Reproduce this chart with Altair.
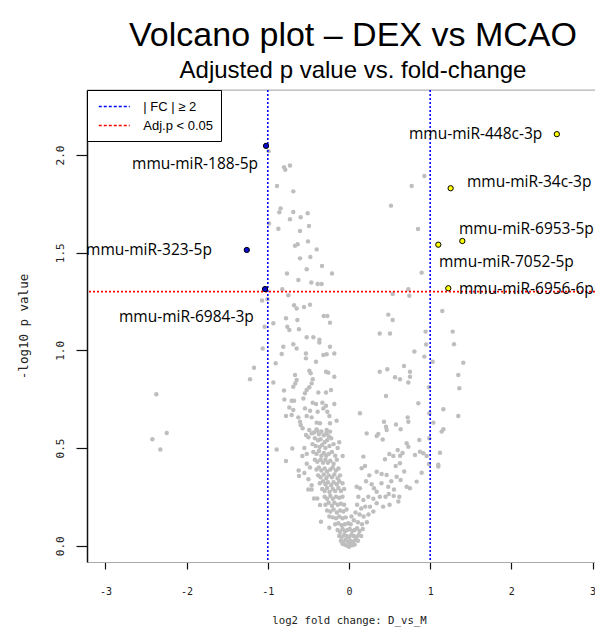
import altair as alt
import pandas as pd

# ---------------- data (log2 fold change, -log10 p) ----------------
upper_pts = [(-0.99, 2.02), (-0.80, 1.937), (-0.727, 1.946), (-0.785, 1.925), (-0.887, 1.842),
             (-0.686, 1.814), (-0.842, 1.727), (-0.858, 1.707), (-0.686, 1.708), (-0.727, 1.671),
             (-0.595, 1.681), (-0.509, 1.702), (-0.985, 1.65), (-0.87, 1.623), (-0.493, 1.637),
             (-0.603, 1.611), (-0.505, 1.558), (-0.632, 1.543), (-0.665, 1.536), (-0.398, 1.517),
             (-0.603, 1.471), (-0.476, 1.478), (-0.333, 1.432), (-0.521, 1.415), (-0.764, 1.393),
             (-0.209, 1.393), (-0.624, 1.36), (-0.464, 1.347), (-0.386, 1.34), (-0.337, 1.34),
             (-0.821, 1.313),
             (0.928, 1.893), (0.772, 1.842), (0.517, 1.741), (0.85, 1.621), (0.895, 1.398), (0.731, 1.313)]

midhigh_pts = [(-0.747, 1.282), (-1.071, 1.255), (-1.005, 1.262), (-0.677, 1.231), (-0.645, 1.214),
               (-0.554, 1.222), (-0.48, 1.234), (-0.312, 1.176), (-0.267, 1.176), (-0.234, 1.142),
               (-0.776, 1.164), (-0.636, 1.156), (-0.932, 1.139), (-1.039, 1.121), (-0.76, 1.121),
               (-0.735, 1.104), (-0.616, 1.108), (-0.521, 1.067), (-0.439, 1.067), (-0.365, 1.054),
               (-0.365, 1.04), (-1.063, 1.01), (-0.809, 1.019), (-0.686, 1.031), (-0.645, 1.01),
               (-0.234, 1.019),
               (0.538, 1.289), (0.743, 1.28), (0.484, 1.183), (0.538, 1.156), (0.378, 1.086),
               (0.505, 1.086), (0.944, 1.096), (1.149, 1.202), (1.277, 1.096), (1.293, 1.031), (0.95, 1.03)]

mid_left_pts = [(-0.829, 0.981), (-0.530, 0.984), (-0.530, 0.959), (-0.316, 0.976), (-0.275, 0.980),
                (-0.181, 0.984), (-0.406, 0.942), (-0.903, 0.934), (-1.170, 0.911), (-1.219, 0.852),
                (-0.932, 0.835), (-0.665, 0.874), (-0.645, 0.848), (-0.661, 0.831), (-0.489, 0.896),
                (-0.472, 0.883), (-0.283, 0.891), (-0.255, 0.886), (-0.181, 0.865), (-0.447, 0.852),
                (-0.460, 0.831), (-0.489, 0.811), (-0.686, 0.814), (-0.521, 0.797), (-0.542, 0.780),
                (-0.562, 0.754), (-0.378, 0.784), (-0.283, 0.784), (-0.222, 0.797), (-0.800, 0.794),
                (-0.796, 0.749), (-0.706, 0.742), (-0.677, 0.742), (-0.447, 0.732), (-0.406, 0.725),
                (-0.328, 0.732), (-0.283, 0.716), (-0.181, 0.725), (-0.735, 0.708), (-0.686, 0.695),
                (-0.542, 0.703), (-0.480, 0.691), (-0.386, 0.686), (-0.316, 0.703), (-0.267, 0.686),
                (-0.242, 0.664), (-0.624, 0.657), (-0.603, 0.635), (-0.776, 0.664), (-0.706, 0.669),
                (-0.521, 0.664), (-0.460, 0.657), (-0.152, 0.640), (-0.595, 0.618), (-0.571, 0.601),
                (-0.398, 0.630), (-0.357, 0.627), (-0.234, 0.627), (-0.489, 0.592), (-0.390, 0.589),
                (-0.275, 0.592), (-0.234, 0.584)]

mid_right_pts = [(0.135, 0.678), (0.378, 0.891), (0.472, 0.903), (0.567, 0.862), (0.628, 0.852),
                 (0.677, 0.920), (0.751, 0.891), (0.751, 0.865), (0.731, 0.835), (0.456, 0.766),
                 (0.805, 0.994), (0.928, 0.968), (1.030, 0.942), (1.408, 0.937), (1.346, 0.874),
                 (1.359, 0.806), (0.985, 0.811), (0.854, 0.729), (1.162, 0.698), (1.346, 0.664),
                 (0.989, 0.678), (1.039, 0.630), (0.431, 0.635), (0.456, 0.609), (0.464, 0.592),
                 (0.579, 0.621), (0.636, 0.596), (0.723, 0.657), (0.731, 0.635)]

outlier_pts = [(-2.373, 0.775), (-2.245, 0.577), (-2.422, 0.545), (-2.324, 0.492)]

low_left_pts = [(-0.891, 0.493), (-0.698, 0.498), (-0.776, 0.434), (-0.575, 0.459), (-0.530, 0.567),
                (-0.50, 0.555), (-0.460, 0.575), (-0.43, 0.58), (-0.40, 0.595), (-0.37, 0.57),
                (-0.34, 0.585), (-0.31, 0.565), (-0.28, 0.575), (-0.25, 0.56), (-0.42, 0.55),
                (-0.38, 0.54), (-0.35, 0.545), (-0.30, 0.53), (-0.27, 0.54), (-0.22, 0.55),
                (-0.45, 0.52), (-0.41, 0.51), (-0.36, 0.505), (-0.33, 0.515), (-0.29, 0.50),
                (-0.24, 0.51), (-0.19, 0.52), (-0.62, 0.385), (-0.615, 0.357), (-0.55, 0.372),
                (-0.44, 0.48), (-0.40, 0.47), (-0.37, 0.485), (-0.34, 0.46), (-0.31, 0.475),
                (-0.28, 0.46), (-0.25, 0.47), (-0.21, 0.48), (-0.17, 0.46), (-0.42, 0.44),
                (-0.39, 0.43), (-0.35, 0.44), (-0.32, 0.425), (-0.29, 0.44), (-0.26, 0.425),
                (-0.23, 0.435), (-0.19, 0.42), (-0.15, 0.44), (-0.078, 0.459), (-0.52, 0.42),
                (-0.48, 0.40), (-0.50, 0.34), (-0.46, 0.31), (-0.55, 0.50), (-0.52, 0.47),
                (-0.14, 0.50), (-0.12, 0.53)]

band3_left_pts = [(-0.40, 0.39), (-0.37, 0.40), (-0.34, 0.385), (-0.30, 0.395), (-0.27, 0.38),
                  (-0.23, 0.39), (-0.20, 0.40), (-0.16, 0.385), (-0.13, 0.395), (-0.38, 0.36),
                  (-0.35, 0.35), (-0.31, 0.365), (-0.28, 0.345), (-0.25, 0.36), (-0.21, 0.35),
                  (-0.18, 0.365), (-0.14, 0.345), (-0.11, 0.36), (-0.36, 0.32), (-0.32, 0.33),
                  (-0.29, 0.315), (-0.26, 0.325), (-0.22, 0.31), (-0.19, 0.325), (-0.15, 0.315),
                  (-0.12, 0.33), (-0.08, 0.32), (-0.501, 0.288), (-0.460, 0.288), (-0.33, 0.29),
                  (-0.30, 0.28), (-0.27, 0.295), (-0.24, 0.275), (-0.20, 0.29), (-0.17, 0.28),
                  (-0.13, 0.295), (-0.10, 0.28), (-0.06, 0.29)]

band3_right_pts = [(0.177, 0.456), (0.361, 0.572), (0.415, 0.544), (0.218, 0.575), (0.341, 0.562),
                   (0.866, 0.541), (0.989, 0.550), (1.141, 0.584), (1.162, 0.596), (0.497, 0.469),
                   (0.546, 0.459), (0.60, 0.49), (0.63, 0.46), (0.66, 0.475), (0.710, 0.524),
                   (0.731, 0.507), (0.813, 0.464), (0.874, 0.481), (0.915, 0.473), (0.957, 0.459),
                   (1.121, 0.476), (0.443, 0.442), (0.985, 0.418), (1.100, 0.415), (1.100, 0.405),
                   (0.628, 0.422), (0.197, 0.408), (0.156, 0.396), (0.341, 0.379), (0.402, 0.367),
                   (0.464, 0.362), (0.575, 0.408), (0.587, 0.353), (0.636, 0.336), (0.710, 0.302),
                   (0.751, 0.294), (0.833, 0.328), (0.895, 0.374), (0.484, 0.302), (0.554, 0.288),
                   (0.279, 0.314), (0.308, 0.294), (0.341, 0.276), (0.094, 0.302), (0.135, 0.294),
                   (0.25, 0.36), (0.21, 0.33), (0.40, 0.32), (0.52, 0.33), (0.68, 0.38)]

band4_pts = [(-0.431, 0.242), (-0.390, 0.242), (-0.357, 0.208), (-0.345, 0.123), (-0.242, 0.092),
             (-0.242, 0.149), (-0.30, 0.25), (-0.27, 0.24), (-0.23, 0.255), (-0.20, 0.24),
             (-0.16, 0.25), (-0.12, 0.245), (-0.08, 0.25), (-0.29, 0.21), (-0.25, 0.22),
             (-0.21, 0.205), (-0.18, 0.22), (-0.14, 0.21), (-0.10, 0.215), (-0.06, 0.21),
             (-0.27, 0.18), (-0.23, 0.175), (-0.19, 0.185), (-0.15, 0.17), (-0.11, 0.18),
             (-0.07, 0.175), (-0.03, 0.185), (-0.20, 0.145), (-0.16, 0.14), (-0.12, 0.15),
             (-0.08, 0.14), (-0.04, 0.145), (-0.17, 0.11), (-0.13, 0.115), (-0.09, 0.105),
             (-0.05, 0.11), (-0.01, 0.115),
             (0.115, 0.251), (0.177, 0.234), (0.238, 0.251), (0.259, 0.200), (0.341, 0.217),
             (0.608, 0.226), (0.45, 0.25), (0.49, 0.265), (0.55, 0.255), (0.62, 0.25),
             (0.38, 0.25), (0.30, 0.24), (0.20, 0.20), (0.15, 0.19), (0.10, 0.21), (0.08, 0.17),
             (0.13, 0.16), (0.18, 0.15), (0.24, 0.16), (0.30, 0.175), (0.42, 0.20), (0.50, 0.21),
             (0.06, 0.13), (0.11, 0.12), (0.16, 0.11), (0.22, 0.12), (0.03, 0.15), (0.02, 0.11)]

bottom_pts = [(-0.14, 0.08), (-0.11, 0.07), (-0.08, 0.085), (-0.05, 0.075), (-0.02, 0.08),
              (0.01, 0.085), (0.04, 0.075), (0.07, 0.08), (0.10, 0.09), (0.13, 0.075), (0.17, 0.085),
              (-0.12, 0.05), (-0.09, 0.045), (-0.06, 0.055), (-0.03, 0.05), (0.0, 0.045),
              (0.03, 0.055), (0.06, 0.05), (0.09, 0.045), (0.12, 0.055), (0.15, 0.05),
              (-0.10, 0.025), (-0.07, 0.02), (-0.04, 0.03), (-0.01, 0.02), (0.02, 0.025),
              (0.05, 0.02), (0.08, 0.03), (0.11, 0.025), (-0.05, 0.005), (-0.02, 0.0),
              (0.01, 0.008), (0.04, 0.002), (0.07, 0.006), (-0.08, 0.01), (0.0, -0.005)]

hl_names = ["mmu-miR-188-5p", "mmu-miR-323-5p", "mmu-miR-6984-3p",
            "mmu-miR-448c-3p", "mmu-miR-34c-3p", "mmu-miR-6953-5p", "mmu-miR-7052-5p", "mmu-miR-6956-6p"]
hl_fc = [-1.022, -1.259, -1.034, 2.56, 1.252, 1.396, 1.10, 1.223]
hl_p = [2.047, 1.514, 1.314, 2.107, 1.830, 1.560, 1.541, 1.318]
hl_dir = ["down", "down", "down", "up", "up", "up", "up", "up"]
# where each label starts (left edge), in data units
lab_fc = [-2.672, -3.239, -2.833, 0.739, 1.453, 1.355, 1.108, 1.355]
lab_p = [1.954, 1.514, 1.171, 2.108, 1.862, 1.622, 1.453, 1.313]

fc_cut = [-1, 1]
p_cut = [1.30103]
legend_labels = ["| FC | \u2265 2", "Adj.p < 0.05"]
y_top = [2.333]

# ---------------- tables ----------------
gray = (upper_pts + midhigh_pts + mid_left_pts + mid_right_pts + outlier_pts + low_left_pts
        + band3_left_pts + band3_right_pts + band4_pts + bottom_pts)
gray_df = pd.DataFrame(gray, columns=["fc", "p"])
hl_df = pd.DataFrame({"name": hl_names, "fc": hl_fc, "p": hl_p, "dir": hl_dir})
lab_df = pd.DataFrame({"name": hl_names, "fc": lab_fc, "p": lab_p})
vr_df = pd.DataFrame({"fc": fc_cut, "kind": [legend_labels[0]] * 2})
hr_df = pd.DataFrame({"p": p_cut, "kind": [legend_labels[1]]})
top_df = pd.DataFrame({"p": y_top})

MONO = "DejaVu Sans Mono"
xs = alt.Scale(domain=[-3.227, 3.03], nice=False, zero=False)
ys = alt.Scale(domain=[-0.0835, 2.333], nice=False, zero=False)

x_axis = alt.Axis(values=[-3, -2, -1, 0, 1, 2, 3], labelExpr="'' + datum.value",
                  title="log2 fold change: D_vs_M", titleFont=MONO, titleFontSize=10.7,
                  titleFontWeight="normal", titleColor="#222", titleX=262, titleY=58,
                  titleBaseline="middle", titleAlign="center",
                  labelFont=MONO, labelFontSize=10, labelColor="#222", labelPadding=17,
                  tickSize=7, tickColor="#111", tickWidth=1.2, domainColor="#aaa",
                  domainWidth=1, grid=False, labelFlush=False)
y_axis = alt.Axis(values=[0, 0.5, 1, 1.5, 2], labelExpr="format(datum.value, '.1f')",
                  labelAngle=-90, labelAlign="center", labelBaseline="bottom",
                  title="-log10 p value", titleFont=MONO, titleFontSize=12.5,
                  titleFontWeight="normal", titleColor="#222", titleX=-64, titleY=236,
                  titleBaseline="middle", titleAlign="center",
                  labelFont=MONO, labelFontSize=11, labelColor="#222", labelPadding=11,
                  tickSize=11, tickColor="#111", tickWidth=1.2, domainColor="#111",
                  domainWidth=1.5, grid=False, labelFlush=False)

X = alt.X("fc:Q", scale=xs, axis=x_axis)
Y = alt.Y("p:Q", scale=ys, axis=y_axis)

color = alt.Color("kind:N",
                  scale=alt.Scale(domain=legend_labels, range=["#0000ff", "#ff0000"]),
                  legend=alt.Legend(title=None, orient="top-left", offset=0,
                                    symbolType="M-2,0H2", symbolSize=240, symbolStrokeWidth=1.5,
                                    symbolDash=[3, 2], symbolOffset=10.75,
                                    labelFont="Liberation Sans", labelFontSize=13,
                                    labelColor="black", labelOffset=20.5,
                                    strokeColor="black", fillColor="white", padding=8,
                                    rowPadding=3, cornerRadius=0))

top_line = alt.Chart(top_df).mark_rule(color="#b0b0b0", strokeWidth=1).encode(y=Y)
pts = alt.Chart(gray_df).mark_circle(size=20, color="#bebebe", opacity=1).encode(x=X, y=Y)
vrules = alt.Chart(vr_df).mark_rule(strokeDash=[2, 2], strokeWidth=1.6).encode(x=X, color=color)
hrules = alt.Chart(hr_df).mark_rule(strokeDash=[2, 2], strokeWidth=1.8).encode(y=Y, color=color)
hl = alt.Chart(hl_df).mark_point(filled=True, size=28, stroke="black", strokeWidth=1,
                                 opacity=1).encode(
    x=X, y=Y,
    fill=alt.Fill("dir:N", scale=alt.Scale(domain=["down", "up"], range=["#0a0ad0", "#ffff00"]),
                  legend=None))
labels = alt.Chart(lab_df).mark_text(align="left", baseline="middle", font="Open Sans",
                                     fontSize=15.5, color="black").encode(x=X, y=Y, text="name:N")

chart = alt.layer(top_line, pts, vrules, hrules, hl, labels).properties(
    width=508, height=472,
    autosize=alt.AutoSizeParams(type="none"),
    padding={"left": 79, "top": 82, "right": 0, "bottom": 67},
    title=alt.TitleParams(text="Volcano plot \u2013 DEX vs MCAO",
                          subtitle="Adjusted p value vs. fold-change",
                          font="Liberation Sans", fontSize=34, fontWeight="normal",
                          color="black", subtitleFont="Liberation Sans",
                          subtitleFontSize=24, subtitleColor="black", subtitlePadding=6,
                          anchor="middle", dx=12, offset=6),
).configure_view(strokeWidth=0).configure(background="white")

chart.save("out.html", embed_options={"renderer": "svg", "actions": False})
